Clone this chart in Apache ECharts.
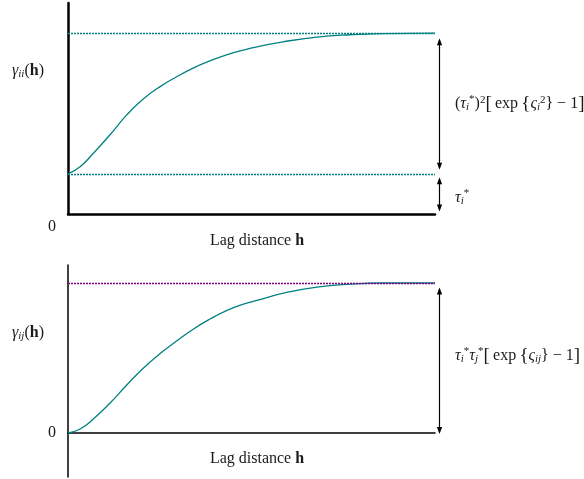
<!DOCTYPE html>
<html>
<head>
<meta charset="utf-8">
<script src="https://cdn.jsdelivr.net/npm/echarts@6/dist/echarts.min.js"></script>
<style>
html, body { margin: 0; padding: 0; background: #fff; }
#main { width: 584px; height: 479px; }
</style>
</head>
<body>
<div id="main"></div>
<script>
// lag (0..100) and semivariogram values
var lagII = [0, 3.3, 6.9, 11.4, 16.0, 20.5, 25.1, 29.6, 34.1, 38.7, 43.2, 47.8, 52.3, 58.6, 67.8, 76.8, 85.8, 100];
var gammaII = [20, 23.5, 30.2, 39.3, 49.3, 57.2, 63.4, 68.3, 72.6, 76.2, 79.2, 81.6, 83.5, 85.7, 88.0, 89.2, 89.8, 90];
var lagIJ = [0, 3.3, 6.9, 11.4, 16.0, 20.5, 25.1, 29.6, 34.1, 38.7, 43.2, 47.8, 52.3, 58.7, 67.8, 76.8, 85.9, 100];
var gammaIJ = [0, 2.0, 7.0, 14.9, 24.0, 32.4, 39.7, 46.0, 51.9, 57.0, 61.2, 64.4, 66.7, 69.9, 72.9, 74.4, 75.0, 75.0];
var nuggetII = 20, sillII = 90, sillIJ = 75;

var SERIF = '"Liberation Serif", "DejaVu Serif", serif';
var TEAL = '#008080', PURPLE = '#800080', INK = '#1a1a1a';
var THIN = '\u2009';

function pairs(xs, ys) {
	var out = [];
	for (var i = 0; i < xs.length; i++) out.push([xs[i], ys[i]]);
	return out;
}

var rich = {
	it: { fontFamily: SERIF, fontSize: 16, fontStyle: 'italic', fill: INK },
	b: { fontFamily: SERIF, fontSize: 16, fontWeight: 'bold', fill: INK },
	sub: { fontFamily: SERIF, fontSize: 11, fontStyle: 'italic', fill: INK, padding: [7, 0, 0, 0] },
	sup: { fontFamily: SERIF, fontSize: 11, fill: INK, padding: [0, 0, 8, 0] },
	supi: { fontFamily: SERIF, fontSize: 11, fill: INK, padding: [0, 0, 9, 0] },
	big: { fontFamily: SERIF, fontSize: 19, fill: INK }
};

function txt(x, y, text, align) {
	return {
		type: 'text', silent: true,
		style: {
			x: x, y: y, text: text, rich: rich,
			fontFamily: SERIF, fontSize: 16, fill: INK,
			align: align || 'left', verticalAlign: 'middle'
		}
	};
}

function hiddenAxis(idx, min, max, width) {
	return {
		gridIndex: idx, min: min, max: max,
		axisLine: { show: true, onZero: true, lineStyle: { color: '#000', width: width } },
		axisTick: { show: false }, axisLabel: { show: false }, splitLine: { show: false }
	};
}

function dotted(value, color) {
	return {
		yAxis: value,
		lineStyle: { color: color, type: [2, 1], width: 1.3 }
	};
}

var chart = echarts.init(document.getElementById('main'), null, { renderer: 'canvas' });

chart.setOption({
	animation: false,
	backgroundColor: '#fff',
	grid: [
		{ left: 68, top: 3, width: 367, height: 211 },
		{ left: 68, top: 265, width: 367, height: 212 }
	],
	xAxis: [
		Object.assign({ type: 'value' }, hiddenAxis(0, 0, 100, 2.5)),
		Object.assign({ type: 'value' }, hiddenAxis(1, 0, 100, 1.5))
	],
	yAxis: [
		Object.assign({ type: 'value' }, hiddenAxis(0, 0, 105, 2.5)),
		Object.assign({ type: 'value' }, hiddenAxis(1, -22, 84, 1.5))
	],
	series: [ {
		type: 'line', xAxisIndex: 0, yAxisIndex: 0,
		data: pairs(lagII, gammaII),
		smooth: true, showSymbol: false, silent: true,
		lineStyle: { color: TEAL, width: 1.3 },
		markLine: {
			silent: true, symbol: 'none', label: { show: false },
			data: [ dotted(sillII, TEAL), dotted(nuggetII, TEAL) ]
		}
	}, {
		type: 'line', xAxisIndex: 1, yAxisIndex: 1,
		data: pairs(lagIJ, gammaIJ),
		smooth: true, showSymbol: false, silent: true,
		lineStyle: { color: TEAL, width: 1.3 },
		markLine: {
			silent: true, symbol: 'none', label: { show: false },
			data: [ dotted(sillIJ, PURPLE) ]
		}
	} ]
});

// double headed arrows, placed from the axis scales
function arrow(x, y1, y2) {
	var hw = 2.6, hl = 7;
	return [ {
		type: 'line', silent: true,
		shape: { x1: x, y1: y1 + 2, x2: x, y2: y2 - 2 },
		style: { stroke: '#000', lineWidth: 1.2 }
	}, {
		type: 'polygon', silent: true,
		shape: { points: [[x, y1], [x - hw, y1 + hl], [x + hw, y1 + hl]] },
		style: { fill: '#000' }
	}, {
		type: 'polygon', silent: true,
		shape: { points: [[x, y2], [x - hw, y2 - hl], [x + hw, y2 - hl]] },
		style: { fill: '#000' }
	} ];
}

var pSill = chart.convertToPixel({ gridIndex: 0 }, [100, sillII]);
var pNug = chart.convertToPixel({ gridIndex: 0 }, [100, nuggetII]);
var pZero = chart.convertToPixel({ gridIndex: 0 }, [100, 0]);
var qSill = chart.convertToPixel({ gridIndex: 1 }, [100, sillIJ]);
var qZero = chart.convertToPixel({ gridIndex: 1 }, [100, 0]);
var ax = pSill[0] + 4.5;

var graphics = []
	.concat(arrow(ax, pSill[1] + 5, pNug[1] - 4))
	.concat(arrow(ax, pNug[1] + 3.5, pZero[1] - 2.5))
	.concat(arrow(ax, qSill[1] + 4.5, qZero[1] + 1));

graphics.push(
	txt(12, 71, '{it|γ}{sub|ii}({b|h})'),
	txt(12, 333, '{it|γ}{sub|ij}({b|h})'),
	txt(48, 227, '0'),
	txt(48, 433, '0'),
	txt(257, 241, 'Lag distance {b|h}', 'center'),
	txt(257, 459, 'Lag distance {b|h}', 'center'),
	txt(455, 104, '({it|τ}{sub|i}{supi|*}){sup|2}{big|[}' + THIN + 'exp' + THIN + '{big|{}{it|ς}{sub|i}{sup|2}{big|}} − 1{big|]}'),
	txt(455, 198, '{it|τ}{sub|i}{supi|*}'),
	txt(455, 356, '{it|τ}{sub|i}{supi|*}{it|τ}{sub|j}{supi|*}{big|[}' + THIN + 'exp' + THIN + '{big|{}{it|ς}{sub|ij}{big|}} − 1{big|]}')
);

chart.setOption({ graphic: graphics });
window.onresize = chart.resize;
</script>
</body>
</html>
